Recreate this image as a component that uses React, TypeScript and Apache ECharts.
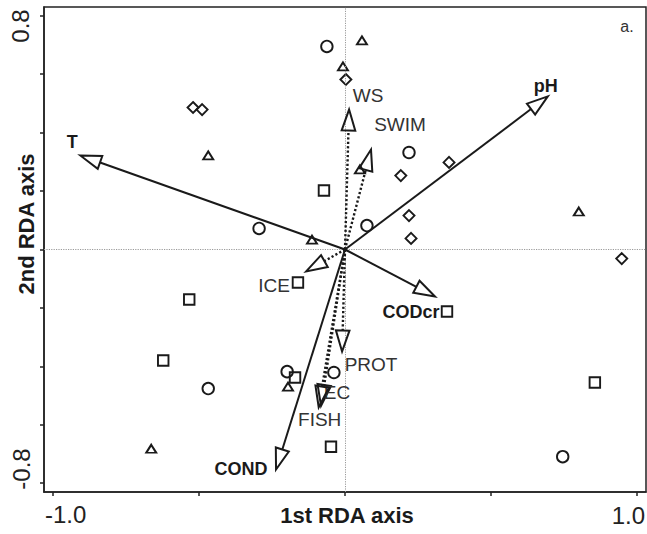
import React, { useEffect, useRef } from 'react';
import * as echarts from 'echarts';

// Site scores (open symbols)
const circles: number[][] = [
  [-0.062, 0.695], [0.219, 0.332], [0.075, 0.082], [-0.294, 0.072],
  [-0.468, -0.476], [-0.198, -0.418], [-0.038, -0.421], [0.745, -0.709],
];
const triangles: number[][] = [
  [0.058, 0.716], [-0.007, 0.627], [-0.468, 0.322], [0.051, 0.274],
  [-0.113, 0.034], [0.8, 0.13], [-0.663, -0.682], [-0.195, -0.469],
];
const diamonds: number[][] = [
  [-0.52, 0.486], [-0.489, 0.479], [0.003, 0.582], [0.191, 0.253],
  [0.219, 0.116], [0.226, 0.038], [0.356, 0.298], [0.947, -0.031],
];
const squares: number[][] = [
  [-0.072, 0.202], [-0.533, -0.171], [-0.622, -0.38], [-0.161, -0.113],
  [-0.171, -0.438], [-0.048, -0.675], [0.349, -0.212], [0.855, -0.455],
];

// Environmental variable arrows
const arrowNames = ['T', 'pH', 'WS', 'SWIM', 'ICE', 'CODcr', 'PROT', 'EC', 'FISH', 'COND'];
const arrowX = [-0.906, 0.694, 0.014, 0.089, -0.133, 0.308, -0.01, -0.082, -0.09, -0.236];
const arrowY = [0.322, 0.524, 0.479, 0.342, -0.075, -0.161, -0.349, -0.535, -0.54, -0.753];
const arrowDotted = [false, false, true, true, true, false, true, true, true, false];

// Tick positions and labels
const xTickValues = [-1, -0.5, 0, 0.5, 1];
const yTickValues = [-0.8, -0.6, -0.4, -0.2, 0, 0.2, 0.4, 0.6, 0.8];
const xTickLabels = ['-1.0', '1.0'];
const yTickLabels = ['0.8', '-0.8'];

// Styling (pixel offsets of arrow labels relative to arrow tips)
const labelOffsets = [[-8, -13], [-2, -10], [19, -14], [29, -25], [-32, 14], [-24, 15], [29, 13], [16, -13], [1, 12], [-35, -1]];
const FONT = '"Liberation Sans", Arial, Helvetica, sans-serif';
const INK = '#1a1a1a';

export default function App() {
  const ref = useRef<HTMLDivElement>(null);
  useEffect(() => {
    if (!ref.current) return;
    const chart = echarts.init(ref.current, undefined, { renderer: 'svg' });
    const arrowData = arrowNames.map((_, i) => [arrowX[i], arrowY[i], i]);
    const bold = (i: number) => !arrowDotted[i];

    const symbolStyle = { color: 'rgba(0,0,0,0)', borderColor: INK, borderWidth: 1.9, opacity: 1 };

    const text = (t: string, x: number, y: number, size: number, weight: string, opts: any = {}) => ({
      type: 'text',
      x,
      y,
      rotation: opts.rotation || 0,
      silent: true,
      style: {
        text: t,
        fill: opts.fill || '#222',
        font: `${weight} ${size}px ${FONT}`,
        textAlign: opts.align || 'center',
        textVerticalAlign: 'middle',
        align: opts.align || 'center',
        verticalAlign: 'middle',
      },
    });

    const option: any = {
      animation: false,
      backgroundColor: '#ffffff',
      grid: {
        left: 44, right: 1, top: 7, bottom: 42,
        show: true, borderColor: '#222', borderWidth: 1.5, backgroundColor: 'transparent',
      },
      xAxis: {
        type: 'value', min: -1.03, max: 1.03,
        axisLine: { show: true, onZero: false, lineStyle: { color: '#222', width: 1.5 } },
        axisTick: { show: true, customValues: xTickValues, length: 4, lineStyle: { color: '#222', width: 1.5 } },
        axisLabel: { show: false },
        splitLine: { show: false },
      },
      yAxis: {
        type: 'value', min: -0.83, max: 0.83,
        axisLine: { show: true, onZero: false, lineStyle: { color: '#222', width: 1.5 } },
        axisTick: { show: true, customValues: yTickValues, length: 4, lineStyle: { color: '#222', width: 1.5 } },
        axisLabel: { show: false },
        splitLine: { show: false },
      },
      graphic: [
        text(xTickLabels[0], 45, 514, 24, 'normal', { align: 'left' }),
        text(xTickLabels[1], 645, 515, 24, 'normal', { align: 'right' }),
        text(yTickLabels[0], 20, 26, 24, 'normal', { rotation: Math.PI / 2 }),
        text(yTickLabels[1], 21, 469, 24, 'normal', { rotation: Math.PI / 2 }),
        text('1st RDA axis', 347, 515, 22, 'bold', { fill: '#1a1a1a' }),
        text('2nd RDA axis', 26, 224, 22, 'bold', { rotation: Math.PI / 2, fill: '#1a1a1a' }),
        text('a.', 627, 26, 16, 'normal', { fill: '#333' }),
      ],
      series: [
        {
          type: 'scatter', name: 'ref', data: [], z: 1, silent: true,
          markLine: {
            silent: true, symbol: 'none', animation: false,
            label: { show: false },
            lineStyle: { color: '#9a9a9a', type: [1.2, 1.2], width: 1 },
            data: [{ xAxis: 0 }, { yAxis: 0 }],
          },
        },
        { type: 'scatter', symbol: 'circle', symbolSize: 11.5, data: circles, itemStyle: symbolStyle, z: 3 },
        { type: 'scatter', symbol: 'triangle', symbolSize: [10, 8], data: triangles, itemStyle: symbolStyle, z: 3 },
        { type: 'scatter', symbol: 'diamond', symbolSize: [11, 11], data: diamonds, itemStyle: symbolStyle, z: 3 },
        { type: 'scatter', symbol: 'rect', symbolSize: 10.5, data: squares, itemStyle: symbolStyle, z: 3 },
        {
          type: 'custom', z: 5, silent: true,
          data: arrowData,
          renderItem: (params: any, api: any) => {
            const i = api.value(2);
            const tip = api.coord([api.value(0), api.value(1)]);
            const o = api.coord([0, 0]);
            const dx = tip[0] - o[0];
            const dy = tip[1] - o[1];
            const len = Math.sqrt(dx * dx + dy * dy) || 1;
            const ux = dx / len, uy = dy / len;
            const headLen = 21, hw = 6.8;
            const bx = tip[0] - ux * headLen, by = tip[1] - uy * headLen;
            const px = -uy, py = ux;
            const dotted = arrowDotted[i];
            const off = labelOffsets[i];
            return {
              type: 'group',
              children: [
                {
                  type: 'line',
                  shape: { x1: o[0], y1: o[1], x2: bx, y2: by },
                  style: {
                    stroke: INK,
                    lineWidth: dotted ? 2.4 : 2,
                    lineDash: dotted ? [2.2, 2.2] : null,
                    fill: null,
                  },
                },
                {
                  type: 'polygon',
                  shape: { points: [[tip[0], tip[1]], [bx + px * hw, by + py * hw], [bx - px * hw, by - py * hw]] },
                  style: { fill: 'rgba(255,255,255,0)', stroke: INK, lineWidth: 2, lineJoin: 'miter' },
                },
                {
                  type: 'text',
                  x: tip[0] + off[0],
                  y: tip[1] + off[1],
                  style: {
                    text: arrowNames[i],
                    fill: bold(i) ? '#1a1a1a' : '#333',
                    font: `${bold(i) ? 'bold 18px' : 'normal 19px'} ${FONT}`,
                    textAlign: 'center',
                    textVerticalAlign: 'middle',
                    align: 'center',
                    verticalAlign: 'middle',
                  },
                },
              ],
            };
          },
        },
      ],
    };
    chart.setOption(option);
    return () => chart.dispose();
  }, []);
  return (
    <div
      ref={ref}
      style={{ position: 'absolute', left: 0, top: 0, width: 647, height: 534, background: '#fff' }}
    />
  );
}
